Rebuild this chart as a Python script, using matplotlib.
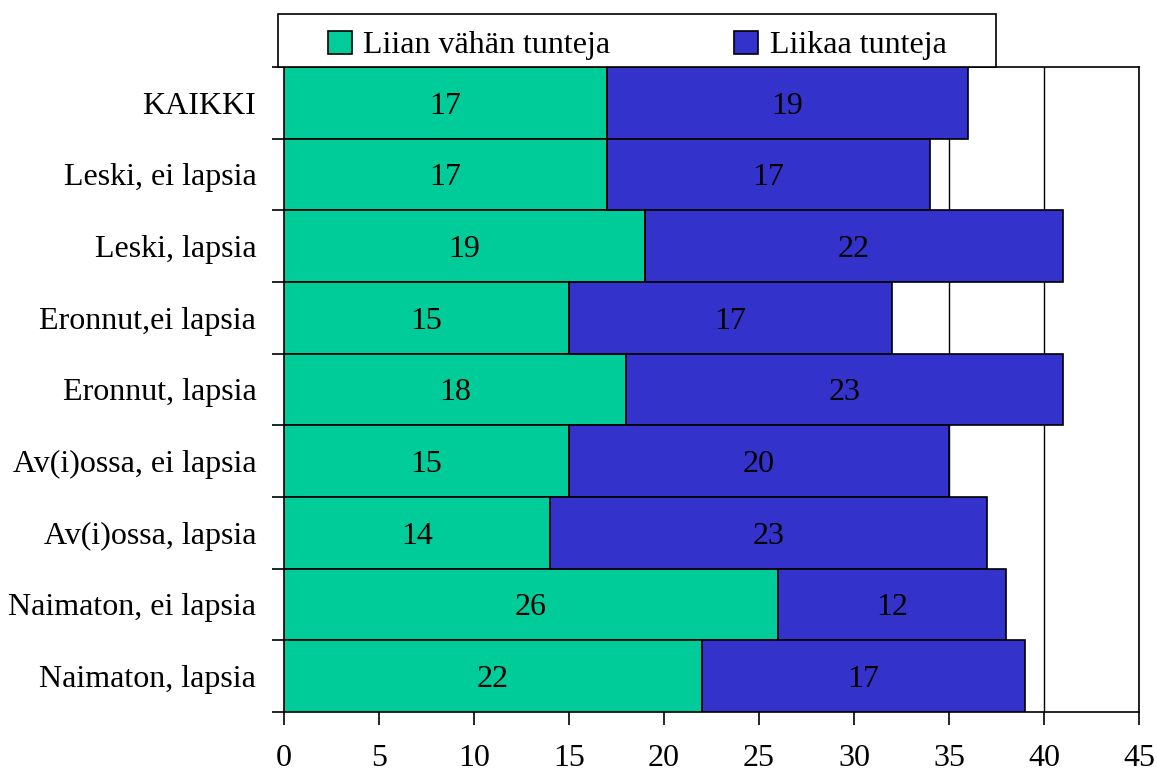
import numpy as np
import matplotlib.pyplot as plt
from matplotlib.patches import Rectangle, Patch

plt.rcParams['font.family'] = ['Liberation Serif', 'DejaVu Serif']

categories = ["KAIKKI", "Leski, ei lapsia", "Leski, lapsia", "Eronnut,ei lapsia",
              "Eronnut, lapsia", "Av(i)ossa, ei lapsia", "Av(i)ossa, lapsia",
              "Naimaton, ei lapsia", "Naimaton, lapsia"]
too_few = [17, 17, 19, 15, 18, 15, 14, 26, 22]
too_many = [19, 17, 22, 17, 23, 20, 23, 12, 17]
series_names = ["Liian vähän tunteja", "Liikaa tunteja"]
colors = ["#00CC99", "#3333CC"]

fs = 23
fig = plt.figure(figsize=(11.57, 7.76), dpi=100)
ax = fig.add_axes([0.2455, 0.0825, 0.9844 - 0.2455, 0.9137 - 0.0825])

y = np.arange(len(categories))
ax.barh(y, too_few, height=1.0, color=colors[0], edgecolor="black", linewidth=1.2, zorder=3)
ax.barh(y, too_many, left=too_few, height=1.0, color=colors[1], edgecolor="black", linewidth=1.2, zorder=3)

for i in range(len(categories)):
    ax.text(too_few[i] / 2, y[i], str(too_few[i]), ha="center", va="center_baseline", fontsize=fs, zorder=4)
    ax.text(too_few[i] + too_many[i] / 2, y[i], str(too_many[i]), ha="center", va="center_baseline",
            fontsize=fs, zorder=4)

ax.set_xlim(0, 45)
ax.set_ylim(len(categories) - 0.5, -0.5)
ax.set_xticks(np.arange(0, 46, 5))
ax.xaxis.grid(True, color="black", linewidth=1.0, zorder=0)
ax.set_axisbelow(True)

ax.set_yticks(y)
ax.set_yticklabels(categories)
ax.set_yticks(np.arange(-0.5, len(categories), 1.0), minor=True)
ax.tick_params(axis="y", which="major", length=0, pad=20, labelsize=fs)
ax.tick_params(axis="y", which="minor", length=9, width=1.2, direction="out")
ax.tick_params(axis="x", length=9, width=1.2, direction="out", pad=14, labelsize=fs)
for s in ax.spines.values():
    s.set_linewidth(1.2)

# legend box above the plot
lx0, ly0, lx1, ly1 = 278 / 1157, 1 - 67 / 776, 996 / 1157, 1 - 14 / 776
fig.patches.append(Rectangle((lx0, ly0), lx1 - lx0, ly1 - ly0, transform=fig.transFigure,
                             facecolor="white", edgecolor="black", linewidth=1.2, zorder=5))
handles = [Patch(facecolor=c, edgecolor="black", linewidth=1.2) for c in colors]
leg = fig.legend(handles, series_names, loc="center", ncol=2, frameon=False,
                 bbox_to_anchor=((lx0 + lx1) / 2, (ly0 + ly1) / 2 - 5 / 776), fontsize=fs,
                 handlelength=0.75, handleheight=0.75, handletextpad=0.35, columnspacing=3.9)
leg.set_zorder(6)

fig.savefig("out.png", dpi=100)
